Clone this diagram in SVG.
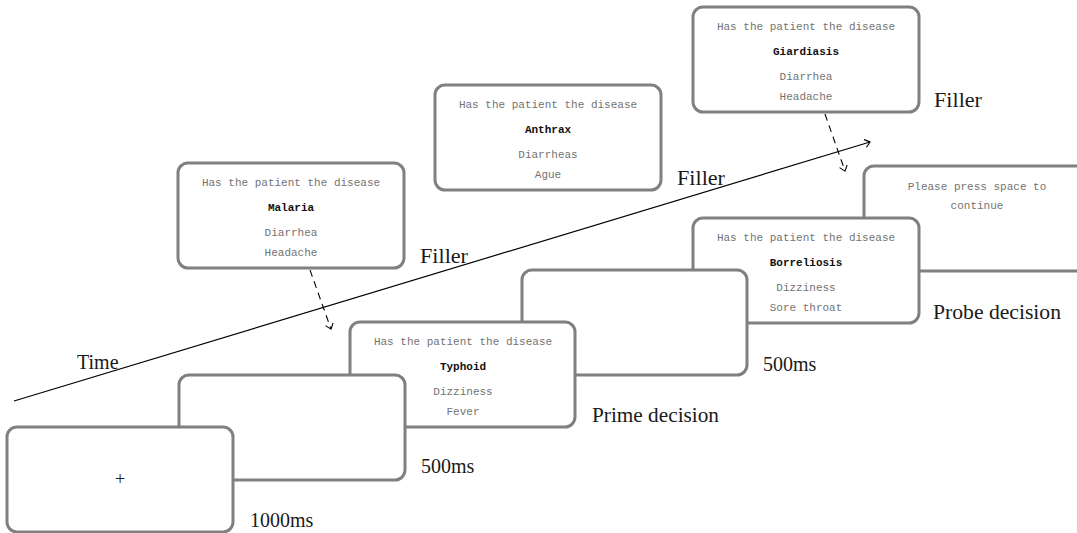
<svg xmlns="http://www.w3.org/2000/svg" width="1077" height="533" viewBox="0 0 1077 533">
  <style>
    .screen { fill: #ffffff; stroke: #808080; stroke-width: 3; }
    .q { font-family: "Liberation Mono", "DejaVu Sans Mono", monospace; font-size: 11px; fill: #737373; text-anchor: middle; }
    .d { font-family: "Liberation Mono", "DejaVu Sans Mono", monospace; font-size: 11px; font-weight: bold; fill: #111111; text-anchor: middle; }
    .lbl { font-family: "Liberation Serif", "Times New Roman", serif; font-size: 20px; fill: #1a1a1a; }
    .fix { font-family: "Liberation Serif", serif; font-size: 18px; fill: #222222; text-anchor: middle; }
    .axis { stroke: #000000; stroke-width: 1.2; fill: none; }
    .link { stroke: #000000; stroke-width: 1.1; fill: none; stroke-dasharray: 7 5; }
  </style>
  <defs>
    <marker id="to" viewBox="-6 -5 8 10" refX="0" refY="0" markerWidth="8" markerHeight="10" markerUnits="userSpaceOnUse" orient="auto">
      <path d="M -5 -4 Q -1 -1 0 0 Q -1 1 -5 4" fill="none" stroke="#000000" stroke-width="1.1"/>
    </marker>
  </defs>

  <!-- time axis and filler links -->
  <g id="connectors">
    <line class="axis" x1="14" y1="401" x2="870" y2="142" marker-end="url(#to)"/>
    <line class="link" x1="310" y1="270" x2="331" y2="329" marker-end="url(#to)"/>
    <line class="link" x1="825" y1="114" x2="845" y2="171" marker-end="url(#to)"/>
  </g>

  <!-- filler trials -->
  <g id="filler-malaria">
    <rect class="screen" x="178" y="163" width="226" height="105" rx="10"/>
    <text class="q" x="291" y="186">Has the patient the disease</text>
    <text class="d" x="291" y="211">Malaria</text>
    <text class="q" x="291" y="236">Diarrhea</text>
    <text class="q" x="291" y="256">Headache</text>
    <text class="lbl" x="420" y="263" textLength="48" lengthAdjust="spacingAndGlyphs">Filler</text>
  </g>
  <g id="filler-anthrax">
    <rect class="screen" x="435" y="85" width="226" height="105" rx="10"/>
    <text class="q" x="548" y="108">Has the patient the disease</text>
    <text class="d" x="548" y="133">Anthrax</text>
    <text class="q" x="548" y="158">Diarrheas</text>
    <text class="q" x="548" y="178">Ague</text>
    <text class="lbl" x="677" y="185" textLength="48" lengthAdjust="spacingAndGlyphs">Filler</text>
  </g>
  <g id="filler-giardiasis">
    <rect class="screen" x="693" y="7" width="226" height="105" rx="10"/>
    <text class="q" x="806" y="30">Has the patient the disease</text>
    <text class="d" x="806" y="55">Giardiasis</text>
    <text class="q" x="806" y="80">Diarrhea</text>
    <text class="q" x="806" y="100">Headache</text>
    <text class="lbl" x="934" y="107" textLength="48" lengthAdjust="spacingAndGlyphs">Filler</text>
  </g>

  <!-- trial sequence, drawn back to front -->
  <g id="continue">
    <rect class="screen" x="864" y="166" width="226" height="105" rx="10"/>
    <text class="q" x="977" y="190">Please press space to</text>
    <text class="q" x="977" y="209">continue</text>
  </g>
  <g id="probe">
    <rect class="screen" x="693" y="218" width="226" height="105" rx="10"/>
    <text class="q" x="806" y="241">Has the patient the disease</text>
    <text class="d" x="806" y="266">Borreliosis</text>
    <text class="q" x="806" y="291">Dizziness</text>
    <text class="q" x="806" y="311">Sore throat</text>
    <text class="lbl" x="933" y="319" textLength="128" lengthAdjust="spacingAndGlyphs">Probe decision</text>
  </g>
  <g id="blank-2">
    <rect class="screen" x="522" y="270" width="225" height="105" rx="10"/>
    <text class="lbl" x="763" y="371">500ms</text>
  </g>
  <g id="prime">
    <rect class="screen" x="350" y="322" width="225" height="105" rx="10"/>
    <text class="q" x="463" y="345">Has the patient the disease</text>
    <text class="d" x="463" y="370">Typhoid</text>
    <text class="q" x="463" y="395">Dizziness</text>
    <text class="q" x="463" y="415">Fever</text>
    <text class="lbl" x="592" y="422" textLength="127" lengthAdjust="spacingAndGlyphs">Prime decision</text>
  </g>
  <g id="blank-1">
    <rect class="screen" x="179" y="375" width="226" height="105" rx="10"/>
    <text class="lbl" x="421" y="473">500ms</text>
  </g>
  <g id="fixation">
    <rect class="screen" x="7" y="427" width="226" height="105" rx="10"/>
    <text class="fix" x="120" y="485">+</text>
    <text class="lbl" x="250" y="527">1000ms</text>
  </g>

  <text class="lbl" x="77" y="369">Time</text>
</svg>
